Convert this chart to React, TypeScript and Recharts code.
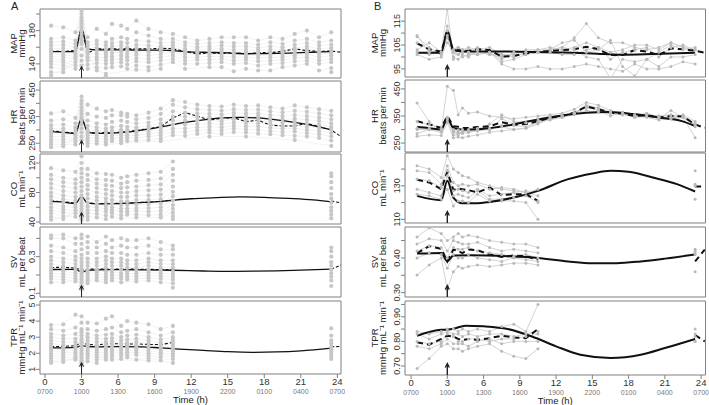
import React from 'react';
import { ComposedChart, XAxis, YAxis, Scatter, Line, ReferenceArea, ReferenceDot } from 'recharts';

const FONT = '"Liberation Sans", Arial, Helvetica, sans-serif';

// sampling times (h)
const A_EARLY = [0.5, 1.5, 2.5, 3, 3.5, 4.25, 5, 5.5, 6.25, 6.75, 7.5, 8.5, 9.5, 10.5];
const B_EARLY = [0.5, 1.5, 2.5, 3, 3.5, 3.9, 4.25, 4.75, 5.5, 6.5, 7.5, 8.5, 9.5, 10.5];
const LATE = [11.5, 12.5, 13.5, 14.5, 15.5, 16.5, 17.5, 18.5, 19.5, 20.5, 21.5, 22.5, 23.5];
const A_FULL = [...A_EARLY, ...LATE];
const A_SPLIT = [...A_EARLY, 23.5];
const B_FULL = [...B_EARLY, ...LATE];
const B_SPLIT = [...B_EARLY, 23.5];

const X_TICKS = [0, 3, 6, 9, 12, 15, 18, 21, 24];
const CLOCK = ['0700', '1000', '1300', '1600', '1900', '2200', '0100', '0400', '0700'];

// ---- panel A: individual readings per time point ----
const A_MAP_CLOUD = [
  [186, 170, 166, 162, 158, 155, 152, 149, 146, 143, 140, 136, 130, 126],
  [184, 172, 167, 163, 159, 155, 151, 148, 145, 142, 138, 134, 130],
  [178, 168, 164, 160, 156, 152, 149, 146, 142, 138, 134],
  [204, 200, 196, 192, 188, 184, 180, 176, 172, 168, 164, 158, 150, 144, 138],
  [172, 166, 162, 158, 155, 152, 148, 144, 139, 134],
  [182, 168, 164, 160, 156, 152, 148, 145, 141, 136, 132],
  [176, 166, 162, 158, 154, 151, 148, 144, 140, 135, 128, 125],
  [188, 170, 165, 161, 157, 153, 149, 145, 141, 136],
  [186, 172, 166, 162, 158, 154, 150, 146, 142, 137],
  [182, 170, 165, 160, 156, 152, 148, 144, 139, 134],
  [192, 178, 168, 163, 159, 155, 151, 147, 143, 138, 133],
  [182, 174, 167, 162, 158, 154, 150, 146, 142, 136, 132],
  [178, 170, 165, 161, 158, 155, 152, 148, 144, 139, 134],
  [176, 170, 166, 163, 160, 157, 154, 150, 146, 142],
  [172, 166, 162, 158, 155, 152, 148, 144, 140, 134],
  [168, 164, 160, 157, 154, 151, 148, 145, 140],
  [170, 165, 161, 158, 155, 152, 149, 145, 141, 136],
  [172, 166, 162, 158, 155, 152, 149, 146, 142, 136],
  [172, 165, 161, 157, 154, 151, 148, 144, 140, 131],
  [172, 165, 161, 157, 154, 151, 148, 145, 141, 134],
  [168, 163, 159, 156, 153, 150, 147, 143, 138, 132],
  [172, 166, 161, 157, 154, 151, 148, 144, 140, 132],
  [170, 164, 160, 157, 154, 151, 148, 145, 141, 136],
  [176, 168, 163, 159, 156, 153, 150, 147, 143, 138],
  [180, 170, 165, 161, 158, 155, 152, 148, 144, 140],
  [172, 166, 162, 158, 155, 152, 148, 144, 140, 132],
  [178, 168, 163, 159, 156, 153, 150, 146, 142, 135, 130],
];
const A_MAP_FIT = [[0.5, 154.8], [1.5, 154.8], [2.5, 154.8], [3, 183], [3.5, 158], [4.25, 156.8], [6, 156.8], [8, 156.6], [9.5, 156.5], [10.5, 156], [11.5, 154.8], [13, 154], [15, 153.2], [16.5, 152.2], [18, 152.4], [20, 153], [22, 154], [23.5, 154.8]];
const A_MAP_MEAN = [[0.5, 155], [1.5, 155], [2.5, 156], [3, 183], [3.5, 153], [4.25, 158], [5, 158], [6.25, 158], [7.5, 158], [8.5, 158], [9.5, 158.8], [10.5, 158], [11.5, 155], [12.5, 152], [13.5, 153], [14.5, 152.5], [15.5, 153.5], [16.5, 152], [17.5, 153.5], [18.5, 153.5], [19.5, 155], [20.5, 158], [21.5, 156], [22.5, 155], [23.5, 155.5], [24.3, 154]];

const A_HR_CLOUD = [
  [362, 335, 318, 305, 295, 285, 275, 265, 255, 245, 235],
  [370, 340, 320, 305, 295, 285, 275, 265, 255, 245, 238],
  [345, 325, 310, 300, 290, 280, 270, 262, 255, 245],
  [425, 410, 398, 385, 372, 360, 348, 335, 320, 305, 290, 275, 262],
  [395, 360, 335, 315, 300, 290, 280, 270, 260, 250, 240],
  [380, 350, 325, 310, 298, 288, 278, 268, 258, 248],
  [370, 345, 320, 305, 295, 285, 275, 265, 255, 245],
  [375, 355, 330, 310, 298, 288, 278, 268, 258],
  [365, 355, 335, 315, 300, 290, 280, 270, 260, 250],
  [360, 350, 330, 312, 300, 290, 280, 270, 258],
  [355, 340, 325, 310, 300, 290, 280, 270, 260],
  [365, 345, 328, 315, 305, 295, 285, 275, 262],
  [380, 360, 340, 325, 312, 300, 290, 280, 268, 258],
  [412, 395, 370, 350, 335, 320, 305, 292, 280],
  [405, 385, 365, 350, 335, 320, 305, 292, 278],
  [395, 378, 362, 348, 335, 322, 310, 298, 285],
  [390, 375, 360, 348, 336, 324, 312, 300, 290, 275],
  [388, 372, 358, 345, 333, 322, 310, 298, 285],
  [395, 378, 364, 352, 340, 328, 316, 305, 292],
  [390, 375, 362, 350, 338, 326, 314, 302, 290, 275],
  [392, 376, 362, 350, 338, 326, 314, 300, 286],
  [385, 370, 356, 344, 332, 320, 308, 296, 284],
  [380, 366, 352, 340, 328, 316, 304, 292, 280],
  [392, 372, 356, 342, 330, 318, 306, 294, 278, 262],
  [385, 368, 352, 338, 325, 312, 300, 288, 275],
  [378, 362, 347, 334, 320, 308, 296, 284, 270],
  [372, 355, 340, 325, 312, 300, 288, 275, 260, 240],
];
const A_HR_FIT = [[0.5, 294], [1.5, 291], [2.5, 286], [3, 344], [3.5, 292], [4.25, 287], [5.5, 288], [7, 293], [8.5, 303], [10, 315], [11.5, 328], [13, 338], [14.5, 345], [16, 347], [17.5, 345], [19, 338], [20.5, 328], [22, 316], [23.5, 300]];
const A_HR_MEAN = [[0.5, 297], [1.5, 292], [2.5, 288], [3, 344], [3.5, 292], [4.25, 288], [5, 290], [5.5, 289], [6.25, 292], [7, 295], [7.5, 298], [8.5, 305], [9.5, 312], [10.5, 345], [11.5, 365], [12.5, 352], [13.5, 337], [14.5, 344], [15.5, 346], [16.5, 331], [17.5, 337], [18.5, 318], [19.5, 315], [20.5, 315], [21.5, 325], [22.5, 312], [23.5, 300], [24.3, 275]];

const A_CO_CLOUD = [
  [113, 104, 98, 92, 86, 80, 75, 70, 65, 60, 56, 52, 47, 43],
  [110, 100, 94, 88, 82, 76, 71, 66, 61, 57, 53, 48, 44],
  [108, 98, 92, 86, 80, 74, 69, 64, 60, 56, 52, 47],
  [129, 120, 112, 106, 100, 94, 88, 82, 76, 71, 66, 62, 58, 54, 50, 46, 43],
  [112, 104, 97, 90, 84, 78, 72, 66, 61, 56, 52, 47, 43],
  [106, 98, 92, 86, 80, 74, 69, 64, 60, 56, 51, 46],
  [105, 97, 90, 84, 78, 72, 67, 62, 58, 54, 49, 44],
  [104, 96, 89, 82, 76, 70, 65, 60, 56, 52, 47],
  [100, 92, 86, 80, 74, 68, 63, 58, 54, 49, 45],
  [102, 94, 87, 80, 74, 68, 63, 58, 54, 50],
  [104, 96, 88, 82, 76, 70, 64, 59, 55, 50, 46],
  [106, 97, 90, 83, 76, 70, 64, 59, 54, 49],
  [108, 99, 91, 84, 77, 71, 65, 60, 55, 50, 46],
  [122, 112, 104, 96, 88, 81, 75, 69, 63, 58, 53, 48, 44],
  [106, 102, 94, 86, 78, 72, 66, 60, 55, 50, 45],
];
const A_CO_FIT = [[0.5, 68], [1.5, 67], [2.5, 65], [3, 74], [3.5, 65.5], [4.25, 64.5], [6, 65], [8, 66.5], [9.5, 68], [10.5, 69.5], [12, 71.5], [14, 73], [16, 74], [18, 73.5], [20, 72], [22, 70], [23.5, 67.3]];
const A_CO_MEAN = [[0.5, 68.5], [1.5, 67.5], [2.5, 65.5], [3, 74.5], [3.5, 66], [4.25, 65], [5, 65], [6.25, 65.5], [7.5, 66], [8.5, 67], [9.5, 68], [10.5, 69.5], [23.5, 68.5], [24.3, 66]];

const A_SV_CLOUD = [
  [0.416, 0.40, 0.36, 0.33, 0.30, 0.28, 0.26, 0.24, 0.225, 0.21, 0.195, 0.18, 0.16],
  [0.42, 0.40, 0.35, 0.32, 0.29, 0.27, 0.25, 0.235, 0.22, 0.205, 0.19, 0.175, 0.16],
  [0.40, 0.37, 0.33, 0.30, 0.28, 0.26, 0.24, 0.225, 0.21, 0.195, 0.18, 0.165],
  [0.42, 0.40, 0.37, 0.34, 0.31, 0.29, 0.27, 0.25, 0.235, 0.22, 0.205, 0.19, 0.175, 0.16, 0.14, 0.123],
  [0.41, 0.38, 0.35, 0.32, 0.29, 0.27, 0.25, 0.23, 0.215, 0.20, 0.185, 0.17, 0.155],
  [0.38, 0.35, 0.32, 0.29, 0.27, 0.25, 0.23, 0.215, 0.20, 0.185, 0.17],
  [0.41, 0.37, 0.33, 0.30, 0.28, 0.26, 0.24, 0.22, 0.205, 0.19, 0.175, 0.16],
  [0.39, 0.35, 0.32, 0.29, 0.27, 0.25, 0.23, 0.215, 0.20, 0.185, 0.17],
  [0.40, 0.36, 0.32, 0.29, 0.27, 0.25, 0.23, 0.21, 0.195, 0.18, 0.16],
  [0.39, 0.35, 0.31, 0.28, 0.26, 0.24, 0.22, 0.205, 0.19, 0.175],
  [0.39, 0.35, 0.31, 0.28, 0.26, 0.24, 0.225, 0.21, 0.195, 0.18, 0.165],
  [0.40, 0.36, 0.32, 0.29, 0.27, 0.25, 0.23, 0.215, 0.20, 0.185, 0.17],
  [0.38, 0.34, 0.31, 0.28, 0.26, 0.24, 0.225, 0.21, 0.195, 0.18, 0.16],
  [0.36, 0.34, 0.31, 0.28, 0.26, 0.24, 0.22, 0.205, 0.19, 0.175, 0.155, 0.131],
  [0.35, 0.33, 0.30, 0.27, 0.25, 0.23, 0.21, 0.19, 0.17, 0.14],
];
const A_SV_FIT = [[0.5, 0.230], [2.5, 0.231], [3, 0.216], [3.5, 0.225], [4.25, 0.228], [6, 0.229], [8, 0.228], [10.5, 0.226], [13, 0.222], [15, 0.220], [17, 0.221], [19, 0.223], [21, 0.227], [23.5, 0.232]];
const A_SV_MEAN = [[0.5, 0.241], [1.5, 0.242], [2.5, 0.238], [3, 0.226], [3.5, 0.232], [4.25, 0.232], [5.5, 0.233], [7.5, 0.232], [9.5, 0.230], [10.5, 0.228], [23.5, 0.232], [24.3, 0.254]];

const A_TPR_CLOUD = [
  [3.75, 3.5, 3.2, 3.0, 2.8, 2.6, 2.45, 2.3, 2.15, 2.0, 1.85, 1.7, 1.55, 1.4],
  [3.8, 3.4, 3.1, 2.9, 2.7, 2.5, 2.35, 2.2, 2.05, 1.9, 1.75, 1.6, 1.45],
  [4.4, 3.6, 3.2, 2.9, 2.7, 2.5, 2.35, 2.2, 2.05, 1.9, 1.75, 1.6],
  [4.3, 3.9, 3.5, 3.3, 3.1, 2.9, 2.75, 2.6, 2.45, 2.3, 2.15, 2.0, 1.85, 1.7, 1.55, 1.4, 1.25],
  [3.9, 3.5, 3.2, 3.0, 2.8, 2.6, 2.45, 2.3, 2.15, 2.0, 1.85, 1.7, 1.5],
  [3.85, 3.4, 3.1, 2.9, 2.7, 2.5, 2.35, 2.2, 2.05, 1.9, 1.75, 1.6, 1.4],
  [4.15, 3.5, 3.15, 2.9, 2.7, 2.5, 2.35, 2.2, 2.05, 1.9, 1.75, 1.6],
  [4.3, 3.6, 3.2, 2.95, 2.75, 2.55, 2.4, 2.25, 2.1, 1.95, 1.8, 1.6],
  [3.7, 3.3, 3.0, 2.8, 2.6, 2.45, 2.3, 2.15, 2.0, 1.85, 1.65],
  [4.0, 3.4, 3.1, 2.85, 2.65, 2.5, 2.35, 2.2, 2.05, 1.9, 1.75],
  [3.9, 3.5, 3.15, 2.9, 2.7, 2.5, 2.35, 2.2, 2.05, 1.9, 1.6],
  [3.8, 3.3, 3.0, 2.8, 2.6, 2.45, 2.3, 2.15, 2.0, 1.85, 1.7, 1.55],
  [3.5, 3.1, 2.85, 2.65, 2.5, 2.35, 2.2, 2.05, 1.9, 1.75, 1.55],
  [3.7, 3.3, 3.0, 2.8, 2.6, 2.45, 2.3, 2.15, 2.0, 1.85, 1.65, 1.4],
  [3.55, 3.1, 2.8, 2.6, 2.4, 2.25, 2.1, 1.95, 1.8, 1.65],
];
const A_TPR_FIT = [[0.5, 2.33], [2.5, 2.36], [3, 2.47], [3.5, 2.42], [4.25, 2.40], [6, 2.41], [8, 2.40], [9.5, 2.33], [11, 2.26], [13, 2.18], [15, 2.10], [17, 2.06], [19, 2.08], [21, 2.15], [23.5, 2.32]];
const A_TPR_MEAN = [[0.5, 2.41], [1.5, 2.43], [2.5, 2.47], [3, 2.67], [3.5, 2.55], [4.25, 2.52], [5, 2.58], [5.5, 2.60], [6.25, 2.58], [7.5, 2.58], [8.5, 2.55], [9.5, 2.54], [10.5, 2.67], [23.5, 2.41], [24.3, 2.42]];

// ---- panel B: one row per subject ----
const B_MAP_SUBJ = [
  [108.5, 104, 101, 113, 103, 104, 103, 104, 103, 104, 101, 101, 103, 103, 103, 104, 108, 114, 108, 106, 106, 104, 103, 104, 106, 104, 103],
  [103, 106, 102, 111, 102, 101, 103, 102, 104, 102, 97, 95, 95, 96, 95, 95, 96, 97, 96, 95, 94, 97, 95, 95, 96, 98, 97],
  [102, 101, 102, 120, 100, 99, 101, 100, 103, 101, 100, 101, 101, 102, 103, 106, 107, 102, 103, 107, 96, 92, 99, 102, 105, 103, 104],
  [106, 103, 101, 109, 99, 104, 100, 101, 101, 102, 99, 102, 102, 103, 104, 103, 104, 106, 104, 99, 102, 103, 104, 100, 104, 105, 103],
  [101, 99, 100, 106, 102, 101, 103, 101, 102, 101, 101, 100, 102, 102, 102, 101, 101, 103, 104, 102, 103, 105, 105, 103, 106, 104, 103],
  [109, 102, 102, 108, 103, 104, 102, 102, 101, 102, 98, 99, 101, 102, 103, 104, 103, 100, 99, 91, 99, 98, 99, 96, 100, 100, 101],
];
const B_MAP_FIT = [[0.5, 101.8], [1.5, 101.8], [2.5, 101.8], [3, 111], [3.5, 103], [4.25, 102.3], [6, 102.3], [9, 102.2], [12, 101.9], [15, 101.5], [17.4, 100.9], [20, 101.2], [23.5, 101.8]];
const B_MAP_MEAN = [[0.5, 105.7], [1.5, 103.2], [2.5, 102.2], [3, 110.6], [3.5, 102.2], [3.9, 102.9], [4.25, 102.6], [4.75, 102.6], [5.5, 103.2], [6.5, 102.9], [7.5, 100.1], [8.5, 100.4], [9.5, 101.5], [10.5, 102.2], [11.5, 102.5], [12.5, 102.9], [13.5, 103.2], [14.5, 104.3], [15.5, 103.2], [16.5, 100.8], [17.5, 100.8], [18.5, 102.9], [19.5, 102.2], [20.5, 100.8], [21.5, 103.6], [22.5, 103.2], [23.5, 102.6], [24.3, 101.8]];

const B_HR_SUBJ = [
  [398, 330, 295, 460, 445, 355, 380, 360, 365, 350, 345, 340, 345, 350, 355, 360, 375, 400, 390, 370, 360, 345, 355, 340, 370, 345, 315],
  [330, 318, 305, 345, 300, 298, 300, 295, 305, 300, 340, 320, 325, 340, 350, 352, 360, 390, 380, 360, 355, 350, 345, 335, 340, 355, 330],
  [305, 305, 300, 340, 295, 290, 290, 300, 300, 305, 310, 300, 305, 325, 340, 345, 355, 385, 370, 350, 365, 345, 350, 345, 345, 350, 310],
  [300, 300, 295, 335, 290, 285, 285, 290, 295, 300, 315, 315, 310, 330, 345, 350, 360, 370, 365, 360, 355, 350, 360, 345, 340, 345, 320],
  [275, 280, 278, 325, 270, 272, 270, 275, 280, 290, 295, 300, 305, 320, 340, 350, 365, 380, 375, 365, 360, 355, 355, 350, 355, 345, 270],
  [285, 300, 290, 345, 280, 280, 295, 290, 300, 320, 355, 330, 325, 330, 335, 345, 360, 385, 380, 365, 360, 355, 355, 350, 350, 350, 320],
];
const B_HR_FIT = [[0.5, 309], [1.5, 305], [2.5, 300], [3, 341], [3.5, 306], [4.25, 300], [5.5, 301], [6.5, 305], [8.5, 319], [10.5, 337], [12.5, 352], [14.5, 362], [16.4, 365], [18.4, 357], [20.4, 345], [22.4, 331], [23.5, 313]];
const B_HR_MEAN = [[0.5, 331], [1.5, 319], [2.5, 306], [3, 350], [3.5, 312], [3.9, 310], [4.25, 306], [4.75, 306], [5.5, 309], [6.5, 312], [7.5, 327], [8.5, 318], [9.5, 320], [10.5, 331], [11.5, 344], [12.5, 350], [13.5, 362], [14.5, 385], [15.5, 375], [16.5, 362], [17.5, 359], [18.5, 350], [19.5, 353], [20.5, 344], [21.5, 350], [22.5, 348], [23.5, 319], [24.3, 306]];

const B_CO_SUBJ = [
  [142, 140, 135, 148, 140, 138, 136, 135, 132, 130, 128, 127, 126, 124, 139],
  [139, 138, 131, 142, 132, 130, 131, 130, 131, 128, 129, 128, 126, 128, 131],
  [134, 133, 129, 139, 127, 128, 127, 126, 128, 124, 125, 126, 127, 121, 130],
  [128, 126, 124, 136, 124, 125, 124, 123, 127, 122, 122, 123, 124, 120, 130],
  [125, 124, 122, 128, 118, 121, 121, 120, 125, 121, 121, 121, 120, 110, 122],
];
const B_CO_FIT = [[0.5, 124], [2.5, 121.4], [3, 133], [3.5, 123], [4.25, 119.6], [5.5, 119.6], [6.5, 120.4], [8.5, 123], [10.5, 127], [13, 134], [15, 137.4], [16.5, 139], [18, 138.4], [20, 135], [22, 131], [23.5, 126.6]];
const B_CO_MEAN = [[0.5, 133.6], [1.5, 132], [2.5, 128], [3, 138.4], [3.5, 127.6], [3.9, 128.4], [4.25, 128], [4.75, 127.4], [5.5, 126], [6.5, 129], [7.5, 124.4], [8.5, 125], [9.5, 125], [10.5, 121], [23.5, 129.6], [24.3, 129.6]];

const B_SV_SUBJ = [
  [0.46, 0.487, 0.47, 0.45, 0.46, 0.47, 0.46, 0.465, 0.46, 0.45, 0.445, 0.44, 0.44, 0.43, 0.425],
  [0.44, 0.455, 0.45, 0.42, 0.45, 0.445, 0.44, 0.44, 0.445, 0.43, 0.42, 0.425, 0.42, 0.415, 0.42],
  [0.42, 0.435, 0.43, 0.40, 0.43, 0.425, 0.425, 0.43, 0.42, 0.415, 0.41, 0.405, 0.41, 0.40, 0.415],
  [0.40, 0.415, 0.41, 0.37, 0.41, 0.40, 0.40, 0.41, 0.40, 0.395, 0.39, 0.40, 0.395, 0.39, 0.41],
  [0.351, 0.38, 0.40, 0.31, 0.36, 0.375, 0.37, 0.375, 0.38, 0.375, 0.38, 0.385, 0.385, 0.38, 0.36],
];
const B_SV_FIT = [[0.5, 0.4125], [2.5, 0.4145], [3, 0.390], [3.5, 0.4067], [5, 0.408], [8, 0.405], [10.5, 0.400], [13, 0.390], [15, 0.385], [17, 0.385], [19, 0.390], [21, 0.398], [23.5, 0.410]];
const B_SV_MEAN = [[0.5, 0.414], [1.5, 0.434], [2.5, 0.426], [3, 0.390], [3.5, 0.424], [3.9, 0.420], [4.25, 0.414], [4.75, 0.424], [5.5, 0.422], [6.5, 0.410], [7.5, 0.403], [8.5, 0.407], [9.5, 0.405], [10.5, 0.395], [23.5, 0.390], [24.3, 0.424]];

const B_TPR_SUBJ = [
  [0.84, 0.83, 0.84, 0.85, 0.85, 0.84, 0.85, 0.84, 0.85, 0.84, 0.86, 0.87, 0.84, 0.95, 0.85],
  [0.83, 0.81, 0.83, 0.84, 0.83, 0.83, 0.82, 0.83, 0.82, 0.83, 0.83, 0.82, 0.83, 0.84, 0.83],
  [0.80, 0.79, 0.80, 0.83, 0.82, 0.80, 0.80, 0.81, 0.81, 0.80, 0.81, 0.81, 0.82, 0.83, 0.82],
  [0.78, 0.77, 0.79, 0.81, 0.79, 0.79, 0.79, 0.78, 0.80, 0.81, 0.79, 0.80, 0.80, 0.80, 0.80],
  [0.69, 0.73, 0.78, 0.79, 0.77, 0.77, 0.76, 0.77, 0.78, 0.79, 0.76, 0.74, 0.73, 0.77, 0.80],
];
const B_TPR_FIT = [[0.5, 0.823], [2.5, 0.847], [3, 0.848], [3.5, 0.851], [4.5, 0.864], [6, 0.861], [8, 0.850], [10, 0.820], [12, 0.780], [14, 0.746], [16.5, 0.733], [19, 0.746], [21, 0.773], [23.5, 0.810]];
const B_TPR_MEAN = [[0.5, 0.796], [1.5, 0.787], [2.5, 0.810], [3, 0.823], [3.5, 0.820], [3.9, 0.810], [4.25, 0.806], [4.75, 0.810], [5.5, 0.806], [6.5, 0.813], [7.5, 0.823], [8.5, 0.816], [9.5, 0.813], [10.5, 0.850], [23.5, 0.826], [24.3, 0.800]];

// break a line where sampling pauses overnight
const gapped = (pairs: number[][]) => {
  const out: { x: number; y: number | null }[] = [];
  pairs.forEach(([x, y], i) => {
    if (i > 0 && x - pairs[i - 1][0] > 5) out.push({ x: (x + pairs[i - 1][0]) / 2, y: null });
    out.push({ x, y });
  });
  return out;
};

const cloudPoints = (times: number[], cols: number[][]) =>
  cols.flatMap((c, i) => c.map((v) => ({ x: times[i], y: v })));

const cloudRows = (times: number[], cols: number[][]) => {
  const n = Math.max(...cols.map((c) => c.length));
  const rows: { x: number; y: number | null }[][] = [];
  for (let i = 0; i < n; i++) {
    const pairs: number[][] = [];
    cols.forEach((c, j) => {
      if (c[i] !== undefined) pairs.push([times[j], c[i]]);
    });
    rows.push(gapped(pairs));
  }
  return rows;
};

const subjectRows = (times: number[], rows: number[][]) =>
  rows.map((r) => gapped(r.map((v, i) => [times[i], v])));

const COL_A = {
  left: 40, right: 341, domain: [-0.41, 24.3], heavy: false, titleX: [16.5, 24.5],
  rows: [[9, 78], [81, 152], [154, 224], [227, 297], [301, 374]],
};
const COL_B = {
  left: 405, right: 705.5, domain: [-0.5, 24.36], heavy: true, titleX: [12.5, 20.5],
  rows: [[9, 77], [80, 152], [153, 223], [227, 297], [301, 375]],
};

const TITLES = [
  ['MAP', 'mmHg'],
  ['HR', 'beats per min'],
  ['CO', 'mL min\u207B\u00B9'],
  ['SV', 'mL per beat'],
  ['TPR', 'mmHg mL\u207B\u00B9 min\u207B\u00B9'],
];

const PANELS_A = [
  { domain: [123, 206], ticks: [140, 160, 180, 200], labelled: [140, 180], digits: 0, times: A_FULL, cloud: A_MAP_CLOUD, fit: A_MAP_FIT, mean: A_MAP_MEAN },
  { domain: [217, 484], ticks: [250, 300, 350, 400, 450], labelled: [250, 350, 450], digits: 0, times: A_FULL, cloud: A_HR_CLOUD, fit: A_HR_FIT, mean: A_HR_MEAN },
  { domain: [37.3, 132.2], ticks: [40, 60, 80, 100, 120], labelled: [40, 80, 120], digits: 0, times: A_SPLIT, cloud: A_CO_CLOUD, fit: A_CO_FIT, mean: A_CO_MEAN },
  { domain: [0.08, 0.462], ticks: [0.1, 0.2, 0.3, 0.4], labelled: [0.1, 0.3], digits: 1, times: A_SPLIT, cloud: A_SV_CLOUD, fit: A_SV_FIT, mean: A_SV_MEAN },
  { domain: [0.71, 5.25], ticks: [1, 2, 3, 4, 5], labelled: [1, 2, 3, 4, 5], digits: 0, times: A_SPLIT, cloud: A_TPR_CLOUD, fit: A_TPR_FIT, mean: A_TPR_MEAN },
];
const PANELS_B = [
  { domain: [91.6, 120.1], ticks: [95, 100, 105, 110, 115], labelled: [95, 105, 115], digits: 0, times: B_FULL, subjects: B_MAP_SUBJ, fit: B_MAP_FIT, mean: B_MAP_MEAN },
  { domain: [217, 483], ticks: [250, 300, 350, 400, 450], labelled: [250, 350, 450], digits: 0, times: B_FULL, subjects: B_HR_SUBJ, fit: B_HR_FIT, mean: B_HR_MEAN },
  { domain: [107.8, 149.6], ticks: [110, 120, 130, 140], labelled: [110, 130], digits: 0, times: B_SPLIT, subjects: B_CO_SUBJ, fit: B_CO_FIT, mean: B_CO_MEAN },
  { domain: [0.2876, 0.489], ticks: [0.3, 0.35, 0.4, 0.45], labelled: [0.3, 0.4], digits: 2, times: B_SPLIT, subjects: B_SV_SUBJ, fit: B_SV_FIT, mean: B_SV_MEAN },
  { domain: [0.6635, 0.964], ticks: [0.7, 0.75, 0.8, 0.85, 0.9, 0.95], labelled: [0.7, 0.8, 0.9], digits: 2, times: B_SPLIT, subjects: B_TPR_SUBJ, fit: B_TPR_FIT, mean: B_TPR_MEAN },
];

const YTick = (props: any) => {
  const { x, y, payload, labelled, digits } = props;
  if (!labelled.includes(payload.value)) return <g />;
  return (
    <text x={x + 1} y={y} transform={`rotate(-90 ${x + 1} ${y})`} textAnchor="middle" fontSize={9} fill="#333">
      {Number(payload.value).toFixed(digits)}
    </text>
  );
};

const XTick = (props: any) => {
  const { x, y, payload } = props;
  const i = X_TICKS.indexOf(payload.value);
  return (
    <g>
      <text x={x} y={y + 5} textAnchor="middle" fontSize={9.5} fill="#333">{payload.value}</text>
      <text x={x} y={y + 13.5} textAnchor="middle" fontSize={7} fill="#777">{CLOCK[i]}</text>
    </g>
  );
};

const AxisTitle = (props: any) => {
  const { cy, x1, x2, title, unit } = props;
  return (
    <g fontSize={9.5} fill="#222">
      <text x={x1} y={cy} transform={`rotate(-90 ${x1} ${cy})`} textAnchor="middle">{title}</text>
      <text x={x2} y={cy} transform={`rotate(-90 ${x2} ${cy})`} textAnchor="middle">{unit}</text>
    </g>
  );
};

const makeArrow = (heavy: boolean) => (p: any) => {
  const { cx, cy } = p;
  const w = heavy ? 1.4 : 1;
  return (
    <g>
      <line x1={cx} y1={cy} x2={cx} y2={cy - 11} stroke="#222" strokeWidth={w} />
      <path d={`M${cx - 2},${cy - 7.5} L${cx},${cy - 11.5} L${cx + 2},${cy - 7.5}`} fill="none" stroke="#222" strokeWidth={w} />
    </g>
  );
};

const dotShape = (p: any) => <circle cx={p.cx} cy={p.cy} r={2.1} fill="#c6c6c6" />;

function Panel({ col, idx, def }: any) {
  const [top, bottom] = col.rows[idx];
  const isBottom = idx === 4;
  const plotH = bottom - top;
  const width = col.right - col.left + 44;
  const height = plotH + 4 + (isBottom ? 32 : 4);
  const heavy = col.heavy;
  const [title, unit] = TITLES[idx];
  const faint = def.cloud ? cloudRows(def.times, def.cloud) : [];
  const subj = def.subjects ? subjectRows(def.times, def.subjects) : [];
  return (
    <div style={{ position: 'absolute', left: col.left - 40, top: top - 4 }}>
      <ComposedChart width={width} height={height} margin={{ top: 4, right: 4, bottom: isBottom ? 0 : 4, left: 0 }}>
        <XAxis
          type="number"
          dataKey="x"
          domain={col.domain}
          allowDataOverflow
          hide={!isBottom}
          ticks={X_TICKS}
          interval={0}
          tickSize={4}
          tickLine={{ stroke: '#808080' }}
          axisLine={false}
          height={32}
          tick={XTick}
          label={{ value: 'Time (h)', position: 'insideBottom', offset: 3, fontSize: 9.5, fill: '#222' }}
        />
        <YAxis
          type="number"
          dataKey="y"
          domain={def.domain}
          allowDataOverflow
          ticks={def.ticks}
          interval={0}
          width={40}
          tickSize={4}
          tickLine={{ stroke: '#808080' }}
          axisLine={false}
          tick={(p: any) => <YTick {...p} labelled={def.labelled} digits={def.digits} />}
          label={<AxisTitle cy={4 + plotH / 2} x1={col.titleX[0]} x2={col.titleX[1]} title={title} unit={unit} />}
        />
        {faint.map((r, i) => (
          <Line key={`f${i}`} data={r} dataKey="y" stroke="#ebebeb" strokeWidth={0.6} dot={false} isAnimationActive={false} />
        ))}
        {def.cloud && (
          <Scatter data={cloudPoints(def.times, def.cloud)} dataKey="y" shape={dotShape} isAnimationActive={false} />
        )}
        {subj.map((r, i) => (
          <Line key={`s${i}`} data={r} dataKey="y" stroke="#c8c8c8" strokeWidth={0.8} dot={{ r: 1.5, fill: '#b9b9b9', stroke: 'none' }} isAnimationActive={false} />
        ))}
        <Line
          data={gapped(def.mean)}
          dataKey="y"
          stroke="#111"
          strokeWidth={heavy ? 2 : 1.1}
          strokeDasharray={heavy ? '6 4' : '3 2'}
          dot={false}
          isAnimationActive={false}
        />
        <Line
          data={gapped(def.fit)}
          dataKey="y"
          type="monotone"
          stroke="#111"
          strokeWidth={heavy ? 2 : 1.3}
          dot={false}
          isAnimationActive={false}
        />
        <ReferenceArea
          x1={col.domain[0]}
          x2={col.domain[1]}
          y1={def.domain[0]}
          y2={def.domain[1]}
          fill="none"
          stroke="#808080"
          strokeWidth={1}
          ifOverflow="visible"
        />
        <ReferenceDot x={3} y={def.domain[0]} ifOverflow="visible" shape={makeArrow(heavy)} />
      </ComposedChart>
    </div>
  );
}

export default function App() {
  return (
    <div style={{ position: 'absolute', left: 0, top: 0, width: 709, height: 405, overflow: 'hidden', background: '#fff', fontFamily: FONT }}>
      <div style={{ position: 'absolute', left: 11, top: 1, fontSize: 11, lineHeight: 1, color: '#222' }}>A</div>
      <div style={{ position: 'absolute', left: 374, top: 1, fontSize: 11, lineHeight: 1, color: '#222' }}>B</div>
      {PANELS_A.map((d, i) => (
        <Panel key={`a${i}`} col={COL_A} idx={i} def={d} />
      ))}
      {PANELS_B.map((d, i) => (
        <Panel key={`b${i}`} col={COL_B} idx={i} def={d} />
      ))}
    </div>
  );
}
